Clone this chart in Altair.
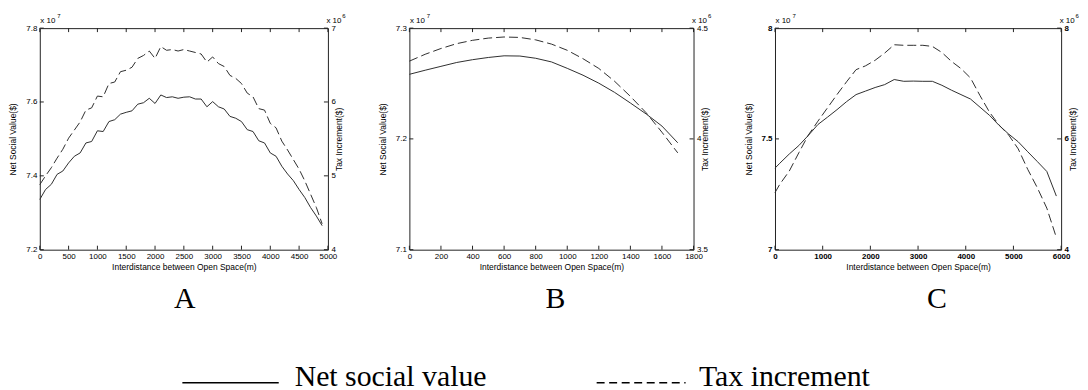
import altair as alt
import pandas as pd

# ---------------- data ----------------
# Panel A
a_x = list(range(0, 5000, 100))
a_net = [7.336, 7.363, 7.377, 7.404, 7.413, 7.435, 7.453, 7.462, 7.489, 7.493,
         7.522, 7.520, 7.547, 7.552, 7.567, 7.572, 7.576, 7.594, 7.598, 7.610,
         7.596, 7.619, 7.612, 7.614, 7.610, 7.613, 7.614, 7.608, 7.608, 7.587,
         7.601, 7.587, 7.581, 7.561, 7.556, 7.547, 7.525, 7.520, 7.495, 7.489,
         7.462, 7.453, 7.426, 7.405, 7.387, 7.363, 7.341, 7.314, 7.291, 7.265]
a_tax = [4.88, 5.00, 5.11, 5.24, 5.36, 5.51, 5.62, 5.73, 5.89, 5.92,
         6.08, 6.07, 6.25, 6.27, 6.41, 6.43, 6.47, 6.59, 6.63, 6.69,
         6.59, 6.75, 6.70, 6.71, 6.69, 6.71, 6.69, 6.67, 6.65, 6.54,
         6.61, 6.52, 6.48, 6.36, 6.32, 6.25, 6.12, 6.07, 5.91, 5.89,
         5.71, 5.65, 5.47, 5.35, 5.22, 5.09, 4.93, 4.75, 4.57, 4.35]
a_xticks = [0, 500, 1000, 1500, 2000, 2500, 3000, 3500, 4000, 4500, 5000]
a_lticks = [7.2, 7.4, 7.6, 7.8]
a_rticks = [4, 5, 6, 7]

# Panel B
b_x = list(range(0, 1800, 100))
b_net = [7.2583, 7.2620, 7.2655, 7.2690, 7.2715, 7.2735, 7.2750, 7.2748, 7.2728,
         7.2695, 7.2637, 7.2575, 7.2503, 7.2420, 7.2324, 7.2225, 7.2116, 7.1965]
b_tax = [4.351, 4.382, 4.408, 4.430, 4.445, 4.455, 4.460, 4.458, 4.447,
         4.428, 4.400, 4.362, 4.318, 4.260, 4.192, 4.118, 4.030, 3.937]
b_xticks = [0, 200, 400, 600, 800, 1000, 1200, 1400, 1600, 1800]
b_lticks = [7.1, 7.2, 7.3]
b_rticks = [3.5, 4, 4.5]

# Panel C
c_x = [0, 100, 300, 500, 700, 900, 1100, 1300, 1500, 1700, 1900, 2100, 2300, 2500,
       2700, 2900, 3100, 3300, 3500, 3700, 3900, 4100, 4300, 4500, 4700, 4900,
       5100, 5300, 5500, 5700, 5900]
c_net = [7.368, 7.390, 7.432, 7.470, 7.516, 7.565, 7.598, 7.632, 7.668, 7.700,
         7.716, 7.732, 7.745, 7.768, 7.760, 7.761, 7.760, 7.760, 7.742, 7.720,
         7.700, 7.680, 7.643, 7.606, 7.561, 7.522, 7.487, 7.442, 7.398, 7.353, 7.242]
c_tax = [5.03, 5.18, 5.42, 5.75, 6.07, 6.32, 6.56, 6.80, 7.03, 7.25,
         7.32, 7.42, 7.55, 7.70, 7.69, 7.69, 7.69, 7.67, 7.56, 7.40,
         7.27, 7.10, 6.78, 6.48, 6.25, 6.07, 5.82, 5.45, 5.12, 4.75, 4.22]
c_xticks = [0, 1000, 2000, 3000, 4000, 5000, 6000]
c_lticks = [7, 7.5, 8]
c_rticks = [4, 6, 8]

panel_letters = ["A", "B", "C"]
legend_labels = ["Net social value", "Tax increment"]
x_title = "Interdistance between Open Space(m)"
left_title = "Net Social Value($)"
right_title = "Tax Increment($)"

# ---------------- style ----------------
SANS = "Liberation Sans"
SERIF = "Liberation Serif"
LINE = "#2e2e2e"
FRAME = "#222222"
H = 223


def txt(s, size, x, y, font=SANS, align="left", weight="normal"):
    return alt.Chart(pd.DataFrame({"t": [s]})).mark_text(
        font=font, fontSize=size, align=align, baseline="alphabetic",
        color="black", fontWeight=weight
    ).encode(x=alt.value(x), y=alt.value(y), text="t:N")


def panel(letter, xs, net, tax, xdom, xticks, ldom, lticks, rdom, rticks, w, bold, lab_x, extra=()):
    weight = "bold" if bold else "normal"
    xsc = alt.Scale(domain=xdom, nice=False, zero=False)
    lsc = alt.Scale(domain=ldom, nice=False, zero=False)
    rsc = alt.Scale(domain=rdom, nice=False, zero=False)
    xaxis = alt.Axis(values=xticks, format="d", title=x_title, ticks=False, domain=False,
                     grid=False, labelPadding=3, labelFlush=False, labelOverlap=False,
                     labelFont=SANS, labelFontSize=8, labelFontWeight=weight, labelColor="black",
                     titleFont=SANS, titleFontSize=8.5, titleFontWeight="normal",
                     titleColor="black", titlePadding=2)
    laxis = alt.Axis(values=lticks, format="~g", title=left_title, orient="left", ticks=False,
                     domain=False, grid=False, labelPadding=3, labelOverlap=False,
                     labelFont=SANS, labelFontSize=8, labelFontWeight=weight, labelColor="black",
                     titleFont=SANS, titleFontSize=8.5, titleFontWeight="normal",
                     titleColor="black", titleAngle=270, titleBaseline="bottom",
                     titleX=-22, titleY=H / 2)
    raxis = alt.Axis(values=rticks, format="~g", title=right_title, orient="right", ticks=False,
                     domain=False, grid=False, labelPadding=3, labelOverlap=False,
                     labelFont=SANS, labelFontSize=8, labelFontWeight=weight, labelColor="black",
                     titleFont=SANS, titleFontSize=8.5, titleFontWeight="normal",
                     titleColor="black", titleAngle=270, titleBaseline="top",
                     titleX=7, titleY=H / 2)

    X = lambda: alt.X("x:Q", scale=xsc, axis=xaxis)

    solid = alt.Chart(pd.DataFrame({"x": xs, "v": net})).mark_line(
        color=LINE, strokeWidth=1).encode(x=X(), y=alt.Y("v:Q", scale=lsc, axis=laxis))
    ltick = alt.Chart(pd.DataFrame({"v": lticks})).mark_rule(color=FRAME).encode(
        y=alt.Y("v:Q", scale=lsc, axis=laxis), x=alt.value(0), x2=alt.value(4))
    ltick2 = alt.Chart(pd.DataFrame({"x": xticks})).mark_rule(color=FRAME).encode(
        x=X(), y=alt.value(H - 4), y2=alt.value(H))
    ltick3 = alt.Chart(pd.DataFrame({"x": xticks})).mark_rule(color=FRAME).encode(
        x=X(), y=alt.value(0), y2=alt.value(4))
    left = alt.layer(solid, ltick, ltick2, ltick3)

    dashed = alt.Chart(pd.DataFrame({"x": xs, "v": tax})).mark_line(
        color=LINE, strokeWidth=1, strokeDash=[9, 4]).encode(
        x=X(), y=alt.Y("v:Q", scale=rsc, axis=raxis))
    rtick = alt.Chart(pd.DataFrame({"v": rticks})).mark_rule(color=FRAME).encode(
        y=alt.Y("v:Q", scale=rsc, axis=raxis), x=alt.value(w - 4), x2=alt.value(w))
    right = alt.layer(dashed, rtick)

    notes = [
        txt("x 10", 8, 0.5, -5),
        txt("7", 6, 17.5, -10.5),
        txt("x 10", 8, w - 1.5, -5),
        txt("6", 6, w + 14.5, -10.5),
        txt(letter, 30, lab_x, 282, font=SERIF, align="center"),
    ]
    return alt.layer(left, right, *notes, *extra).resolve_scale(y="independent").properties(
        width=w, height=H)


legend = [
    alt.Chart(pd.DataFrame({"k": [0]})).mark_rule(color="black", strokeWidth=1.5).encode(
        x=alt.value(-228.5), x2=alt.value(-131.5), y=alt.value(357)),
    txt(legend_labels[0], 30, -115.5, 360, font=SERIF),
    alt.Chart(pd.DataFrame({"k": [0]})).mark_rule(color="black", strokeWidth=1.5,
                                                  strokeDash=[8, 4.6]).encode(
        x=alt.value(188.5), x2=alt.value(278), y=alt.value(357)),
    txt(legend_labels[1], 30, 291.5, 360, font=SERIF),
]

pa = panel(panel_letters[0], a_x, a_net, a_tax, [0, 5000], a_xticks, [7.2, 7.8], a_lticks,
           [4, 7], a_rticks, 290, False, 146)
pb = panel(panel_letters[1], b_x, b_net, b_tax, [0, 1800], b_xticks, [7.1, 7.3], b_lticks,
           [3.5, 4.5], b_rticks, 286, False, 147, extra=legend)
pc = panel(panel_letters[2], c_x, c_net, c_tax, [0, 6000], c_xticks, [7, 8], c_lticks,
           [4, 8], c_rticks, 288, True, 163)

chart = alt.hconcat(pa, pb, pc, spacing=82, bounds="flush").properties(
    padding={"top": 3, "left": 0, "right": 0, "bottom": 0}, background="white"
).configure_view(stroke=FRAME, strokeWidth=1)

chart.save("out.html", embed_options={"renderer": "svg", "actions": False})
